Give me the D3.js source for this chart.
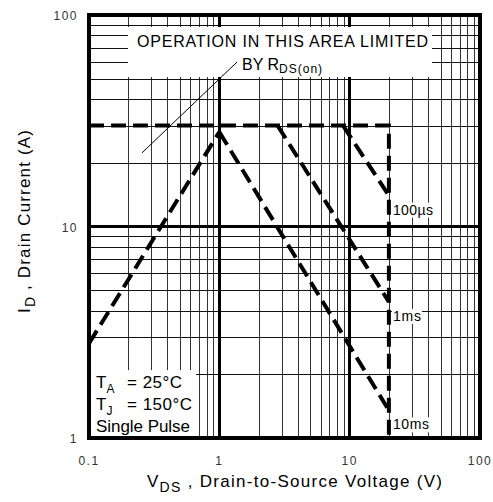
<!DOCTYPE html>
<html>
<head>
<meta charset="utf-8">
<script src="https://cdn.jsdelivr.net/npm/d3@7"></script>
<style>
  body { margin: 0; background: #fff; }
  svg text { font-family: "Liberation Sans", Arial, sans-serif; }
</style>
</head>
<body>
<div id="chart-area"></div>
<script>

// axis ranges / ticks
let xTicks = [0.1, 1, 10, 100];
let yTicks = [1, 10, 100];
let xTickLabels = ["0.1", "1", "10", "100"];
let yTickLabels = ["1", "10", "100"];

// SOA boundaries, [V, A]
let dcLimit = [[0.1, 30], [20, 30], [20, 1]];
let rising = [[0.1, 2.8], [1, 28]];
let pulse10ms = [[1, 28], [20, 1.35]];
let pulse1ms = [[2.8, 30], [20, 4.4]];
let pulse100us = [[8.9, 30], [20, 14]];
let rdsLine = [[0.255, 22.3], [1.37, 60]];

let pulseNames = ["100\u00b5s", "1ms", "10ms"];
let pulseEnds = [pulse100us[1], pulse1ms[1], pulse10ms[1]];

let svg = d3.select("#chart-area").append("svg")
    .attr("width", 493)
    .attr("height", 502);

let x = d3.scaleLog().domain([0.1, 100]).range([89, 480]);
let y = d3.scaleLog().domain([1, 100]).range([438, 15]);

// minor grid
let minorX = [], minorY = [];
[0.1, 1, 10].forEach(function(d) {
    for (let k = 2; k <= 9; k++) minorX.push(d * k);
});
[1, 10].forEach(function(d) {
    for (let k = 2; k <= 9; k++) minorY.push(d * k);
});

let grid = svg.append("g").attr("shape-rendering", "crispEdges");

grid.selectAll(".vminor").data(minorX).enter().append("line")
    .attr("x1", d => Math.round(x(d)) + 0.5).attr("x2", d => Math.round(x(d)) + 0.5)
    .attr("y1", y(100)).attr("y2", y(1))
    .attr("stroke", "#333").attr("stroke-width", 1);

grid.selectAll(".hminor").data(minorY).enter().append("line")
    .attr("y1", d => Math.round(y(d)) + 0.5).attr("y2", d => Math.round(y(d)) + 0.5)
    .attr("x1", x(0.1)).attr("x2", x(100))
    .attr("stroke", "#111").attr("stroke-width", 1);

grid.selectAll(".vmajor").data([1, 10]).enter().append("line")
    .attr("x1", d => x(d)).attr("x2", d => x(d))
    .attr("y1", y(100)).attr("y2", y(1))
    .attr("stroke", "#000").attr("stroke-width", 3);

grid.selectAll(".hmajor").data([10]).enter().append("line")
    .attr("y1", d => y(d)).attr("y2", d => y(d))
    .attr("x1", x(0.1)).attr("x2", x(100))
    .attr("stroke", "#000").attr("stroke-width", 3);

// white boxes over the grid
svg.append("rect")
    .attr("x", 128).attr("y", 27).attr("width", 304).attr("height", 50)
    .attr("fill", "#fff");
svg.append("rect")
    .attr("x", 90).attr("y", 370).attr("width", 106).attr("height", 68)
    .attr("fill", "#fff");

// border
svg.append("rect")
    .attr("x", x(0.1)).attr("y", y(100))
    .attr("width", x(100) - x(0.1)).attr("height", y(1) - y(100))
    .attr("fill", "none").attr("stroke", "#000").attr("stroke-width", 4);

let line = d3.line()
    .x(d => x(d[0]))
    .y(d => y(d[1]));

svg.append("path")
    .attr("d", line(rdsLine))
    .attr("fill", "none").attr("stroke", "#000").attr("stroke-width", 1);

[dcLimit, rising, pulse10ms, pulse1ms, pulse100us].forEach(function(s) {
    svg.append("path")
        .attr("d", line(s))
        .attr("fill", "none")
        .attr("stroke", "#000")
        .attr("stroke-width", 4)
        .attr("stroke-dasharray", "15,7");
});

// pulse labels
let lab = svg.selectAll(".plabel").data(pulseNames).enter().append("g")
    .attr("class", "plabel");
lab.append("rect")
    .attr("x", (d, i) => x(pulseEnds[i][0]) + 3)
    .attr("y", (d, i) => y(pulseEnds[i][1]) + 7)
    .attr("width", (d, i) => i == 1 ? 30 : 43)
    .attr("height", 15)
    .attr("fill", "#fff");
lab.append("text")
    .attr("x", (d, i) => x(pulseEnds[i][0]) + 4)
    .attr("y", (d, i) => y(pulseEnds[i][1]) + 19)
    .attr("font-size", 14)
    .attr("textLength", (d, i) => [40, 28, 36][i])
    .attr("lengthAdjust", "spacing")
    .text(d => d);

// annotation
svg.append("text")
    .attr("x", 137).attr("y", 47)
    .attr("font-size", 16)
    .attr("textLength", 291).attr("lengthAdjust", "spacing")
    .text("OPERATION IN THIS AREA LIMITED");

let by = svg.append("text").attr("x", 242).attr("y", 70).attr("font-size", 16);
by.append("tspan").text("BY R");
by.append("tspan").attr("font-size", 12).attr("dy", 3).attr("letter-spacing", 1).text("DS(on)");

// conditions
let cond = [["A", "= 25\u00b0C", 388], ["J", "= 150\u00b0C", 410]];
cond.forEach(function(c) {
    let t = svg.append("text").attr("x", 96).attr("y", c[2]).attr("font-size", 17);
    t.append("tspan").text("T");
    t.append("tspan").attr("font-size", 12).attr("dy", 5).text(c[0]);
    svg.append("text").attr("x", 127).attr("y", c[2]).attr("font-size", 17)
        .attr("letter-spacing", 0.5)
        .text(c[1]);
});
svg.append("text").attr("x", 96).attr("y", 432).attr("font-size", 17)
    .attr("textLength", 94).attr("lengthAdjust", "spacing")
    .text("Single Pulse");

// tick labels
svg.append("g").selectAll("text").data(xTicks).enter().append("text")
    .attr("x", d => x(d)).attr("y", 465)
    .attr("text-anchor", "middle").attr("font-size", 12)
    .attr("letter-spacing", 1.5)
    .attr("fill", "#333")
    .text((d, i) => xTickLabels[i]);

svg.append("g").selectAll("text").data(yTicks).enter().append("text")
    .attr("x", 78).attr("y", d => y(d) + 5)
    .attr("text-anchor", "end").attr("font-size", 12)
    .attr("letter-spacing", 1.5)
    .attr("fill", "#333")
    .text((d, i) => yTickLabels[i]);

// axis titles
let xt = svg.append("text").attr("x", 147).attr("y", 487).attr("font-size", 17)
    .attr("textLength", 295).attr("lengthAdjust", "spacing");
xt.append("tspan").text("V");
xt.append("tspan").attr("font-size", 14).attr("dy", 5).text("DS");
xt.append("tspan").attr("dy", -5).text(" , Drain-to-Source Voltage (V)");

let yt = svg.append("text")
    .attr("transform", "translate(30,313) rotate(-90)")
    .attr("font-size", 17)
    .attr("textLength", 183).attr("lengthAdjust", "spacing");
yt.append("tspan").text("I");
yt.append("tspan").attr("font-size", 14).attr("dy", 5).text("D");
yt.append("tspan").attr("dy", -5).text(" , Drain Current (A)");

</script>
</body>
</html>
